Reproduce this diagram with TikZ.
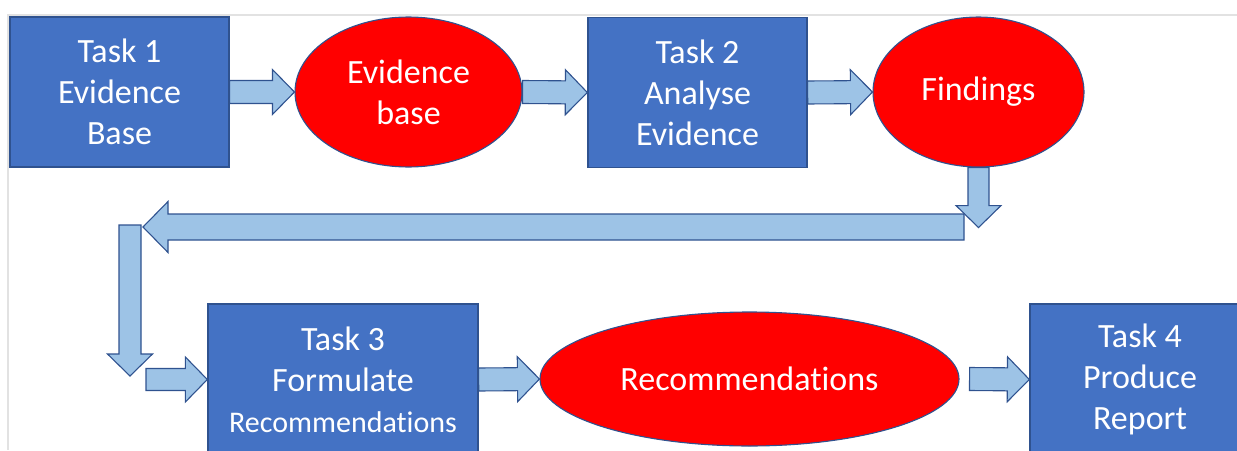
\documentclass[tikz,border=0pt]{standalone}
\usepackage{fontspec}
\setmainfont{Carlito}[Ligatures=NoCommon]
\usetikzlibrary{shapes.geometric,calc}
\definecolor{taskblue}{HTML}{4472C4}
\definecolor{edgeblue}{HTML}{2F528F}
\definecolor{arrowblue}{HTML}{9DC3E6}
\definecolor{framegray}{HTML}{E2E2E2}
\begin{document}
\begin{tikzpicture}[x=1pt, y=-1pt, line join=miter, font=\fontsize{34}{41}\selectfont,
		task/.style={rectangle, draw=edgeblue, line width=1.3pt, fill=taskblue, text=white, align=center, inner sep=0pt},
		outcome/.style={ellipse, draw=edgeblue, line width=1.1pt, fill=red, text=white, align=center, inner sep=0pt},
		shafthalf/.store in=\shafthalf, headhalf/.store in=\headhalf, headlength/.store in=\headlength,
		shafthalf=11.5pt, headhalf=22.5pt, headlength=22pt,
		blockarrow/.style={draw=edgeblue, fill=arrowblue, line width=1.1pt,
			to path={($(\tikztostart)!\shafthalf!90:(\tikztotarget)$)
				-- ($(\tikztotarget)!\headlength!(\tikztostart)!\shafthalf!90:(\tikztotarget)$)
				-- ($(\tikztotarget)!\headlength!(\tikztostart)!\headhalf!90:(\tikztotarget)$)
				-- (\tikztotarget)
				-- ($(\tikztotarget)!\headlength!(\tikztostart)!\headhalf!-90:(\tikztotarget)$)
				-- ($(\tikztotarget)!\headlength!(\tikztostart)!\shafthalf!-90:(\tikztotarget)$)
				-- ($(\tikztostart)!\shafthalf!-90:(\tikztotarget)$) -- cycle}}]
	\useasboundingbox (0,0) rectangle (1237,450);
	\clip (0,0) rectangle (1237,450);
	\draw[framegray, line width=1.5pt] (8,450) -- (8,15) -- (1237,15);
	\node[task, minimum width=219pt, minimum height=150pt] (t1) at (119.5,92) {Task 1\\Evidence\\Base};
	\node[outcome, minimum width=227pt, minimum height=150pt] (eb) at (408.5,92) {Evidence\\base};
	\node[task, minimum width=219pt, minimum height=150pt] (t2) at (697.5,92.5) {Task 2\\Analyse\\Evidence};
	\node[outcome, minimum width=211pt, minimum height=150pt] (fd) at (978.5,92) {Findings};
	\node[task, minimum width=270pt, minimum height=151pt] (t3) at (343,379.5) {Task 3\\Formulate\\\fontsize{30}{38}\selectfont Recommendations};
	\node[outcome, minimum width=419pt, minimum height=134pt] (rc) at (749.5,379) {Recommendations};
	\node[task, minimum width=220pt, minimum height=151pt] (t4) at (1140,379.5) {Task 4\\Produce\\Report};
	\coordinate (fdrop) at ([yshift=-60pt]fd.south);
	\coordinate (backR) at (964,227);
	\coordinate (backL) at (143,227);
	\coordinate (downT) at (130,225);
	\coordinate (downB) at (130,376);
	\coordinate (feedin) at (146,379.5);
	\coordinate (rcout) at ([xshift=10pt]rc.east);
	\draw[blockarrow] (t1.east) to (eb.west);
	\draw[blockarrow] (eb.east) to (t2.west);
	\draw[blockarrow] (t2.east) to (fd.west);
	\draw[blockarrow, shafthalf=10.5pt] (fd.south) to (fdrop);
	\draw[blockarrow, shafthalf=13pt, headhalf=25.5pt, headlength=25pt] (backR) to (backL);
	\draw[blockarrow, shafthalf=11pt] (downT) to (downB);
	\draw[blockarrow, shafthalf=11pt] (feedin) to (t3.west);
	\draw[blockarrow] (t3.east) to (rc.west);
	\draw[blockarrow] (rcout) to (t4.west);
\end{tikzpicture}
\end{document}
